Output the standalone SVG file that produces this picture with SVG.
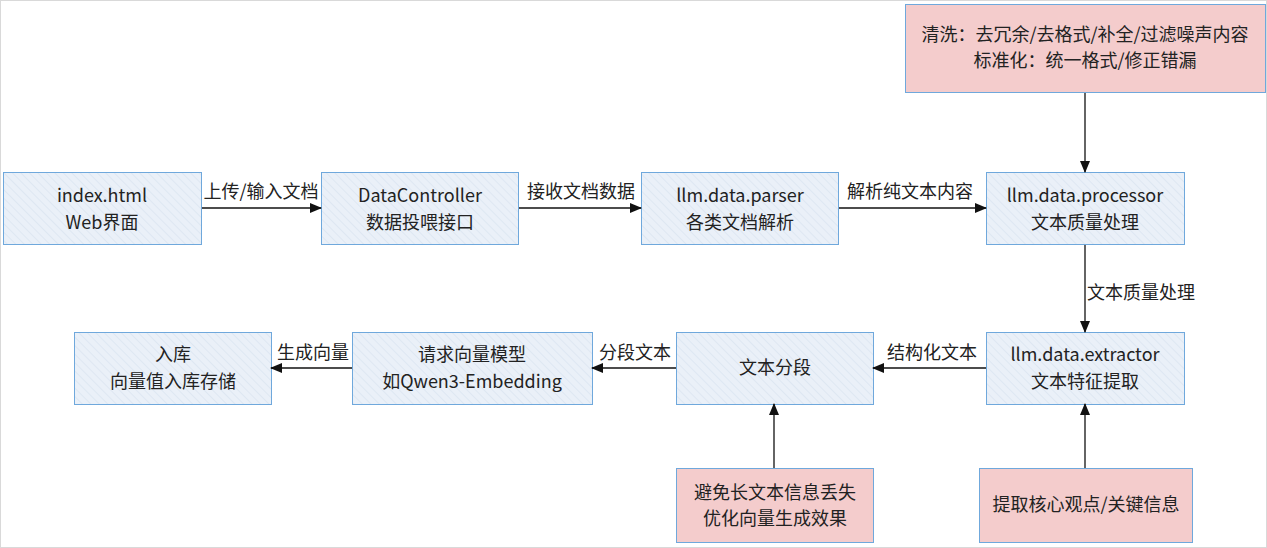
<svg xmlns="http://www.w3.org/2000/svg" width="1267" height="548" viewBox="0 0 1267 548">
<defs>
<pattern id="hatch" patternUnits="userSpaceOnUse" width="6" height="6" patternTransform="rotate(-45)">
<rect width="6" height="6" fill="#eaf0f8"/>
<line x1="0" y1="0" x2="0" y2="6" stroke="#d2deed" stroke-width="1"/>
</pattern>
<marker id="arr" markerWidth="12" markerHeight="10" refX="11" refY="5" orient="auto" markerUnits="userSpaceOnUse">
<path d="M0,0 L12,5 L0,10 Z" fill="#111"/>
</marker>
<style>
.b{fill:url(#hatch);stroke:#6fa8dc;stroke-width:1}
.p{fill:#f4cccc;stroke:#6fa8dc;stroke-width:1}
text{font-family:"Microsoft YaHei","Noto Sans CJK SC","Noto Sans",sans-serif;font-size:18px;fill:#222}
.c{text-anchor:middle}
.e{stroke:#111;stroke-width:1.3;fill:none;marker-end:url(#arr)}
</style>
</defs>
<rect x="0.5" y="0.5" width="1266" height="547" fill="#fff" stroke="#d9d9d9"/>
<g id="n_index"><rect class="b" x="3.5" y="172.5" width="198" height="72"/><text class="c" x="102" y="202">index.html</text><text class="c" x="102" y="229">Web界面</text></g>
<g id="n_dc"><rect class="b" x="321.5" y="172.5" width="197" height="72"/><text class="c" x="420" y="202">DataController</text><text class="c" x="420" y="229">数据投喂接口</text></g>
<g id="n_parser"><rect class="b" x="641.5" y="172.5" width="197" height="72"/><text class="c" x="740" y="202">llm.data.parser</text><text class="c" x="740" y="229">各类文档解析</text></g>
<g id="n_processor"><rect class="b" x="986.5" y="172.5" width="198" height="72"/><text class="c" x="1085" y="202">llm.data.processor</text><text class="c" x="1085" y="229">文本质量处理</text></g>
<g id="n_clean"><rect class="p" x="905.5" y="4.5" width="360" height="88"/><text class="c" x="1085" y="41">清洗：去冗余/去格式/补全/过滤噪声内容</text><text class="c" x="1085" y="67">标准化：统一格式/修正错漏</text></g>
<g id="n_extractor"><rect class="b" x="986.5" y="332.5" width="198" height="72"/><text class="c" x="1085" y="361">llm.data.extractor</text><text class="c" x="1085" y="388">文本特征提取</text></g>
<g id="n_split"><rect class="b" x="676.5" y="332.5" width="197" height="72"/><text class="c" x="775" y="374">文本分段</text></g>
<g id="n_embed"><rect class="b" x="352.5" y="332.5" width="240" height="72"/><text class="c" x="472" y="361">请求向量模型</text><text class="c" x="472" y="388">如Qwen3-Embedding</text></g>
<g id="n_store"><rect class="b" x="74.5" y="332.5" width="197" height="72"/><text class="c" x="173" y="361">入库</text><text class="c" x="173" y="388">向量值入库存储</text></g>
<g id="n_note1"><rect class="p" x="676.5" y="468.5" width="197" height="74"/><text class="c" x="775" y="499">避免长文本信息丢失</text><text class="c" x="775" y="525">优化向量生成效果</text></g>
<g id="n_note2"><rect class="p" x="979.5" y="468.5" width="213" height="74"/><text class="c" x="1086" y="511">提取核心观点/关键信息</text></g>
<g id="edges">
<path class="e" d="M202,208 L321,208"/>
<path class="e" d="M519,208 L641,208"/>
<path class="e" d="M839,208 L986,208"/>
<path class="e" d="M1085,93 L1085,172"/>
<path class="e" d="M1085,245 L1085,332"/>
<path class="e" d="M986,368 L873,368"/>
<path class="e" d="M676,368 L592,368"/>
<path class="e" d="M352,368 L271,368"/>
<path class="e" d="M774,468 L774,404"/>
<path class="e" d="M1085,468 L1085,404"/>
<text class="c" x="261" y="198">上传/输入文档</text>
<text class="c" x="581" y="198">接收文档数据</text>
<text class="c" x="910" y="198">解析纯文本内容</text>
<text x="1087" y="299">文本质量处理</text>
<text class="c" x="932" y="359">结构化文本</text>
<text class="c" x="635" y="359">分段文本</text>
<text class="c" x="313" y="359">生成向量</text>
</g>
</svg>
